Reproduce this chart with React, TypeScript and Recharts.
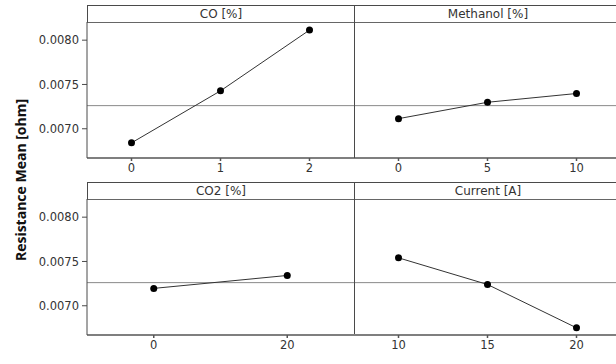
import { LineChart, Line, XAxis, YAxis, ReferenceLine } from "recharts";

// factor levels and the mean response at each level
const coLevels = [0, 1, 2];
const coMeans = [0.006841, 0.007428, 0.008114];

const methanolLevels = [0, 5, 10];
const methanolMeans = [0.007114, 0.007299, 0.007398];

const co2Levels = [0, 20];
const co2Means = [0.007196, 0.007342];

const currentLevels = [10, 15, 20];
const currentMeans = [0.007541, 0.00724, 0.006751];

const grandMean = 0.007261;
const yTicks = [0.007, 0.0075, 0.008];
const yDomain = [0.00667, 0.008205];

const FONT = "'DejaVu Sans', Verdana, sans-serif";
const LINE = "#4a4a4a";

interface PanelProps {
  title: string;
  levels: number[];
  means: number[];
  domain: number[];
  left: number;
  top: number;
  showY: boolean;
}

function Panel({ title, levels, means, domain, left, top, showY }: PanelProps) {
  const data = levels.map((x, i) => ({ x, y: means[i] }));
  const width = showY ? 354 : 267;
  const headerTop = top - 17;
  return (
    <>
      <div
        style={{
          position: "absolute",
          left: showY ? 87 : 354,
          top: headerTop,
          width: 267,
          height: 18,
          boxSizing: "border-box",
          borderTop: `1px solid ${LINE}`,
          borderBottom: `1.5px solid #666`,
          borderLeft: `1px solid ${LINE}`,
          fontFamily: FONT,
          fontSize: 12,
          color: "#333",
          textAlign: "center",
          lineHeight: "16px",
        }}
      >
        {title}
      </div>
      <div style={{ position: "absolute", left, top }}>
        <LineChart
          width={width}
          height={161}
          data={data}
          margin={{ top: 0, right: 0, bottom: 0, left: 0 }}
        >
          <XAxis
            dataKey="x"
            type="number"
            domain={domain}
            ticks={levels}
            allowDataOverflow
            height={25}
            tickSize={3}
            tickMargin={3}
            stroke="#555"
            strokeWidth={1.5}
            tick={{ fill: "#333", fontSize: 11.5, fontFamily: FONT }}
          />
          <YAxis
            type="number"
            domain={yDomain}
            ticks={yTicks}
            allowDataOverflow
            width={showY ? 87 : 0}
            tick={showY ? { fill: "#333", fontSize: 11.5, fontFamily: FONT } : false}
            tickLine={showY}
            tickSize={5}
            tickMargin={3}
            stroke={LINE}
            tickFormatter={(v: number) => v.toFixed(4)}
          />
          <ReferenceLine y={grandMean} stroke="#8a8a8a" strokeWidth={1} />
          <Line
            dataKey="y"
            type="linear"
            stroke="#333"
            strokeWidth={1}
            dot={{ r: 3.5, fill: "#000", stroke: "#000", strokeWidth: 0 }}
            isAnimationActive={false}
          />
        </LineChart>
      </div>
    </>
  );
}

export default function App() {
  return (
    <div
      style={{
        position: "absolute",
        left: 0,
        top: 0,
        width: 616,
        height: 364,
        overflow: "hidden",
        background: "#fff",
      }}
    >
      <Panel title="CO [%]" levels={coLevels} means={coMeans} domain={[-0.5, 2.5]} left={0} top={22} showY />
      <Panel title="Methanol [%]" levels={methanolLevels} means={methanolMeans} domain={[-2.5, 12.5]} left={354} top={22} showY={false} />
      <Panel title="CO2 [%]" levels={co2Levels} means={co2Means} domain={[-10, 30]} left={0} top={199} showY />
      <Panel title="Current [A]" levels={currentLevels} means={currentMeans} domain={[7.5, 22.5]} left={354} top={199} showY={false} />
      <div style={{ position: "absolute", left: 354, top: 5, width: 1, height: 153, background: LINE }} />
      <div style={{ position: "absolute", left: 354, top: 182, width: 1, height: 152, background: LINE }} />
      <svg style={{ position: "absolute", left: 0, top: 0 }} width={40} height={364}>
        <text
          x={20}
          y={180}
          transform="rotate(-90 20 180)"
          textAnchor="middle"
          dominantBaseline="central"
          fontFamily="'Open Sans', sans-serif"
          fontWeight={700}
          fontSize={14}
          fill="#111"
        >
          Resistance Mean [ohm]
        </text>
      </svg>
    </div>
  );
}
